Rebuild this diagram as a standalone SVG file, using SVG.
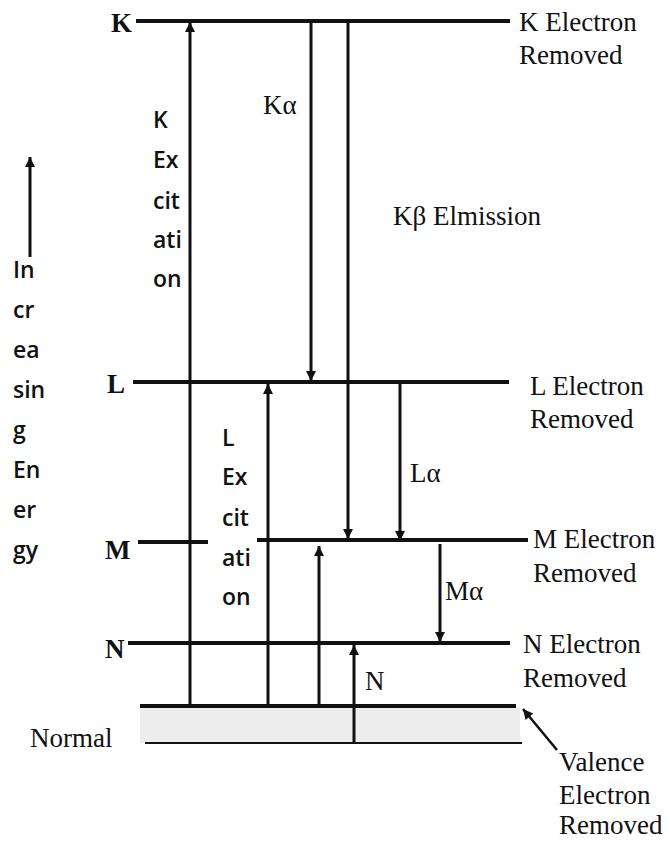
<svg xmlns="http://www.w3.org/2000/svg" width="670" height="841" viewBox="0 0 670 841">
<style>
.lvl{stroke:#111;stroke-width:4;fill:none}
.arr{stroke:#111;stroke-width:3;fill:none;marker-end:url(#ah)}
.serif{font-family:"Liberation Serif","Times New Roman",serif;font-size:27px;fill:#111}
.big{font-family:"Liberation Serif","Times New Roman",serif;font-size:27px;font-weight:bold;fill:#111}
.sans{font-family:"Open Sans","Liberation Sans",sans-serif;font-size:23px;font-weight:600;fill:#111}
</style>
<defs>
<marker id="ah" viewBox="0 0 10 10" refX="10" refY="5" markerWidth="14" markerHeight="10" orient="auto" markerUnits="userSpaceOnUse">
<path d="M0,0 L10,5 L0,10 z" fill="#111"/>
</marker>
</defs>
<rect width="670" height="841" fill="#fff"/>

<g id="normal-band">
<rect x="140" y="707" width="380" height="36" fill="#ededed"/>
<line class="lvl" x1="140" y1="706" x2="516" y2="706"/>
<line x1="145" y1="743" x2="522" y2="743" stroke="#111" stroke-width="2"/>
<text class="serif" x="30" y="747">Normal</text>
</g>

<g id="level-K">
<line class="lvl" x1="136" y1="21" x2="510" y2="21"/>
<text class="big" x="111" y="32">K</text>
<text class="serif" x="519" y="31">K Electron</text>
<text class="serif" x="519" y="64">Removed</text>
</g>

<g id="level-L">
<line class="lvl" x1="133" y1="382" x2="509" y2="382"/>
<text class="big" x="107" y="393">L</text>
<text class="serif" x="530" y="395">L Electron</text>
<text class="serif" x="530" y="428">Removed</text>
</g>

<g id="level-M">
<line class="lvl" x1="138" y1="542" x2="208" y2="542"/>
<line class="lvl" x1="257" y1="540" x2="528" y2="540"/>
<text class="big" x="105" y="559">M</text>
<text class="serif" x="533" y="548">M Electron</text>
<text class="serif" x="533" y="582">Removed</text>
</g>

<g id="level-N">
<line class="lvl" x1="128" y1="643" x2="510" y2="643"/>
<text class="big" x="105" y="658">N</text>
<text class="serif" x="523" y="653">N Electron</text>
<text class="serif" x="523" y="687">Removed</text>
</g>

<g id="valence-label">
<text class="serif" x="559" y="771">Valence</text>
<text class="serif" x="559" y="804">Electron</text>
<text class="serif" x="559" y="834">Removed</text>
</g>

<g id="energy-axis">
<text class="sans" x="13" y="278">In</text>
<text class="sans" x="13" y="318">cr</text>
<text class="sans" x="13" y="358">ea</text>
<text class="sans" x="13" y="398">sin</text>
<text class="sans" x="13" y="438">g</text>
<text class="sans" x="13" y="478">En</text>
<text class="sans" x="13" y="518">er</text>
<text class="sans" x="13" y="558">gy</text>
</g>

<g id="k-excitation-label">
<text class="sans" x="153" y="128">K</text>
<text class="sans" x="153" y="168">Ex</text>
<text class="sans" x="153" y="209">cit</text>
<text class="sans" x="153" y="248">ati</text>
<text class="sans" x="153" y="287">on</text>
</g>

<g id="l-excitation-label">
<text class="sans" x="222" y="446">L</text>
<text class="sans" x="222" y="485">Ex</text>
<text class="sans" x="222" y="526">cit</text>
<text class="sans" x="222" y="566">ati</text>
<text class="sans" x="222" y="605">on</text>
</g>

<g id="emission-labels">
<text class="serif" x="263" y="114">Kα</text>
<text class="serif" x="393" y="225">Kβ Elmission</text>
<text class="serif" x="410" y="482">Lα</text>
<text class="serif" x="445" y="600">Mα</text>
<text class="serif" x="365" y="690">N</text>
</g>

<g id="connectors">
<line class="arr" x1="30" y1="257" x2="30" y2="157"/>
<line class="arr" x1="190" y1="706" x2="190" y2="22"/>
<line class="arr" x1="311" y1="21" x2="311" y2="381"/>
<line class="arr" x1="348" y1="21" x2="348" y2="539"/>
<line class="arr" x1="268" y1="706" x2="268" y2="384"/>
<line class="arr" x1="400" y1="382" x2="400" y2="541"/>
<line class="arr" x1="319" y1="706" x2="319" y2="546"/>
<line class="arr" x1="440" y1="544" x2="440" y2="642"/>
<line class="arr" x1="354" y1="744" x2="354" y2="645"/>
<line class="arr" x1="557" y1="750" x2="523" y2="709" style="stroke-width:2.5"/>
</g>
</svg>
